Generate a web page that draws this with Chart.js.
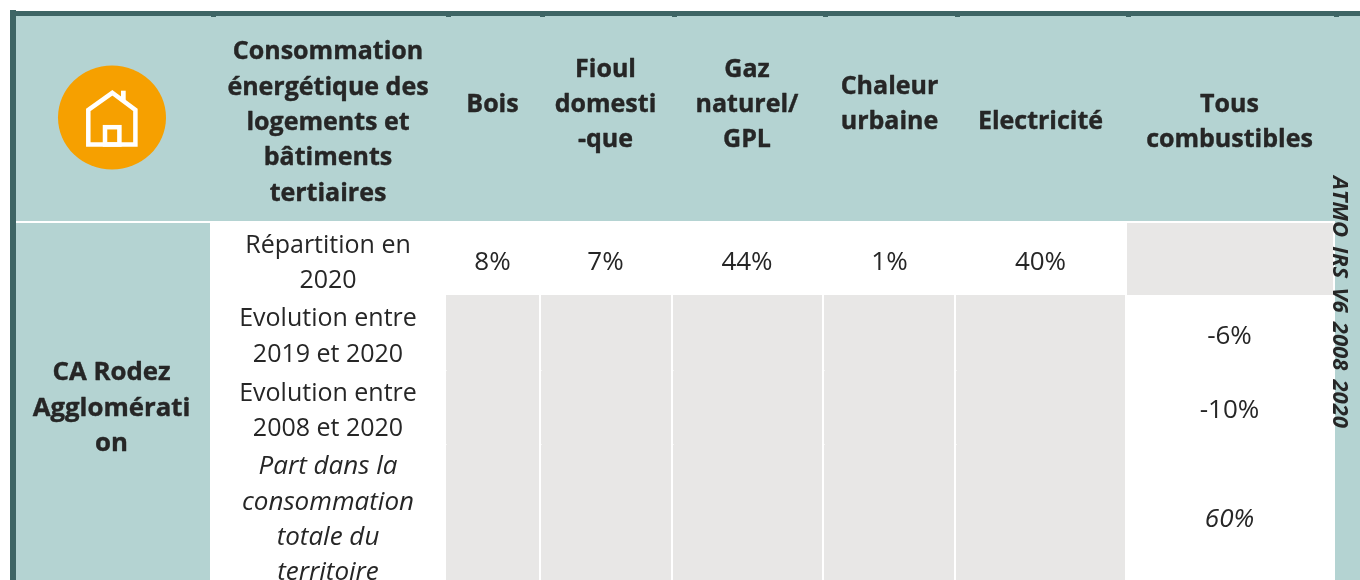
<!DOCTYPE html>
<html lang="fr">
<head>
<meta charset="utf-8">
<style>html,body{margin:0;padding:0;background:#fff;overflow:hidden}canvas{display:block}</style>
<script src="https://cdn.jsdelivr.net/npm/chart.js@4"></script>
</head>
<body>
<canvas id="c" width="1360" height="580" style="width:1360px;height:580px"></canvas>
<script>
// ---- table content ----
const rowLabels = [["Répartition en","2020"],["Evolution entre","2019 et 2020"],["Evolution entre","2008 et 2020"]];
const shareRowLabel = ["Part dans la","consommation","totale du","territoire"];
const territory = ["CA Rodez","Agglomérati","on"];
const titleLabel = ["Consommation","énergétique des","logements et","bâtiments","tertiaires"];
const fuelLabels = [["Bois"],["Fioul","domesti","-que"],["Gaz","naturel/","GPL"],["Chaleur","urbaine"],["Electricité"]];
const totalLabel = ["Tous","combustibles"];
const repartition2020 = [8,7,44,1,40];
const evolution2019 = -6;
const evolution2008 = -10;
const shareOfTotal = 60;
const sourceNote = "ATMO IRS V6 2008 2020";

// ---- layout (pixels map 1:1 onto the hidden linear axes) ----
const C = {teal:"#B4D3D2",dark:"#3E6565",grey:"#E8E7E6",orange:"#F6A000",ink:"#262626"};
const fuelX = [492.5,605.5,747,889.5,1040.5], totalX = 1229.5, rowX = 328, terrX = 111.5;
const greyCols = [[446,539],[541,671],[673,822],[824,954],[956,1125]];
const rects = [
  [16,16,1360,221,C.teal],
  [16,223,210,580,C.teal],
  [1335,221,1360,580,C.teal],
  [10,10,16,580,C.dark],
  [16,11,1360,16,C.dark],
  [1127,223,1333,295,C.grey],
  ...greyCols.map(c=>[c[0],295,c[1],580,C.grey]),
  ...[211,446,540,672,823,955,1126,1334].map(x=>[x,16,x+5,17,C.dark]),
  ...greyCols.flatMap(c=>[[c[0],370,c[0]+1,371,"#F5F5F4"],[c[0],444,c[0]+1,445,"#F5F5F4"]]),
];
const datasets = rects.map((r,i)=>({
  data:[{x:[r[0],r[2]],y:(r[1]+r[3])/2}],
  backgroundColor:r[4],borderWidth:0,barThickness:r[3]-r[1],grouped:false,inflateAmount:0,borderSkipped:false,order:rects.length-i
}));

const SANS = '"Open Sans"';
function lines(ctx,arr,x,baselines,font,heavy){
  ctx.font=font;ctx.fillStyle=C.ink;ctx.strokeStyle=C.ink;ctx.lineWidth=0.4;ctx.lineJoin="round";ctx.textAlign="center";ctx.textBaseline="alphabetic";
  arr.forEach((t,i)=>{ctx.fillText(t,x,baselines[i]);if(heavy)ctx.strokeText(t,x,baselines[i]);});
}
const pct=v=>v+"%";
const tablePlugin={id:"table",afterDatasetsDraw(chart){
  const ctx=chart.ctx;ctx.save();
  const B='700 25px '+SANS,B2='700 25.8px '+SANS,R='400 25px '+SANS,V='400 26px '+SANS,I='italic 400 26px '+SANS;
  // icon
  ctx.fillStyle=C.orange;ctx.beginPath();ctx.ellipse(112,117.5,54,52,0,0,Math.PI*2);ctx.fill();
  ctx.strokeStyle="#fff";ctx.lineWidth=4.5;ctx.lineJoin="miter";
  ctx.beginPath();ctx.moveTo(88.3,144.5);ctx.lineTo(88.3,110);ctx.lineTo(112.3,92.8);ctx.lineTo(135.4,110);ctx.lineTo(135.4,144.5);ctx.closePath();ctx.stroke();
  ctx.strokeRect(105,127.2,14.4,17.3);
  ctx.fillStyle="#fff";ctx.fillRect(121,90.7,4.7,10);
  // header
  lines(ctx,titleLabel,rowX,[59,94.5,130,165,200.5],B,true);
  const hb={1:[112],3:[77,112,147],2:[94,129]};
  fuelLabels.forEach((l,i)=>{const b=i===4?[129]:hb[l.length];lines(ctx,l,fuelX[i],b,B,true);});
  lines(ctx,totalLabel,totalX,[112,147],B,true);
  // left col
  lines(ctx,territory,terrX,[380,415.5,451],B2,true);
  // row labels
  lines(ctx,rowLabels[0],rowX,[252.5,288],R);
  lines(ctx,rowLabels[1],rowX,[326,362],R);
  lines(ctx,rowLabels[2],rowX,[400.5,436],R);
  lines(ctx,shareRowLabel,rowX,[474,510,545,580],I);
  // values
  repartition2020.forEach((v,i)=>lines(ctx,[pct(v)],fuelX[i],[270],V));
  lines(ctx,[pct(evolution2019)],totalX,[344],V);
  lines(ctx,[pct(evolution2008)],totalX,[418],V);
  lines(ctx,[pct(shareOfTotal)],totalX,[527],I);
  // rotated note
  ctx.translate(1332.5,302);ctx.rotate(Math.PI/2);
  ctx.font='italic 700 22px '+SANS;ctx.wordSpacing="3.5px";ctx.textAlign="center";ctx.textBaseline="alphabetic";ctx.fillStyle=C.ink;
  ctx.fillText(sourceNote,0,0);
  ctx.restore();
}};

new Chart(document.getElementById("c"),{
  type:"bar",
  data:{datasets},
  options:{
    indexAxis:"y",responsive:false,animation:false,devicePixelRatio:1,
    layout:{padding:0},
    plugins:{legend:{display:false},title:{display:false},tooltip:{enabled:false}},
    scales:{
      x:{type:"linear",min:0,max:1360,display:false},
      y:{type:"linear",min:0,max:580,reverse:true,display:false,offset:false}
    }
  },
  plugins:[tablePlugin]
});
</script>
</body>
</html>
